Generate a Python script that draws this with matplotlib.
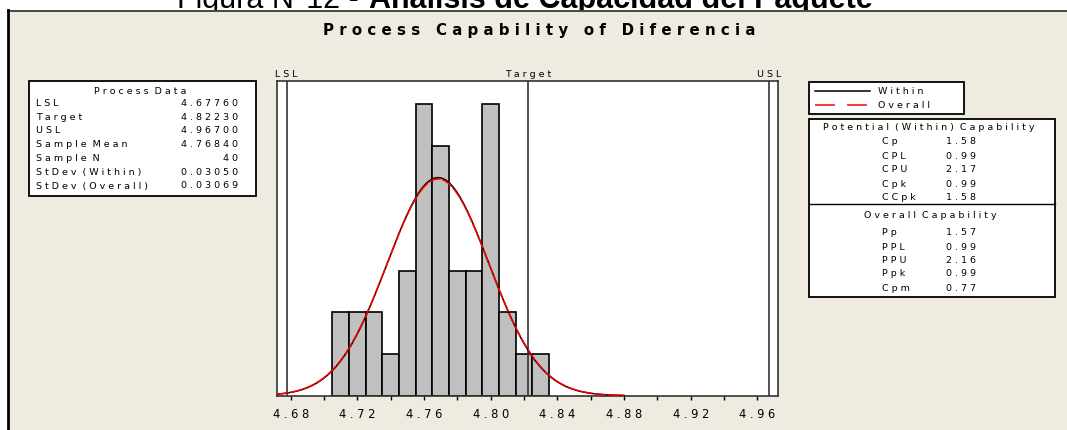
import numpy as np
import matplotlib
matplotlib.use('Agg')
from matplotlib import pyplot as plt
from matplotlib.patches import Rectangle

# histogram of "Diferencia" (bin centres, counts)
bin_centers = [4.71, 4.72, 4.73, 4.74, 4.75, 4.76, 4.77, 4.78, 4.79, 4.80, 4.81, 4.82, 4.83]
counts = [2, 2, 2, 1, 3, 7, 6, 3, 3, 7, 2, 1, 1]
bin_width = 0.01

# process data
lsl = 4.6776
target = 4.8223
usl = 4.967
mean = 4.7684
n_obs = 40
sd_within = 0.03050
sd_overall = 0.03069

process_labels = ['LSL', 'Target', 'USL', 'Sample Mean', 'Sample N', 'StDev (Within)', 'StDev (Overall)']
process_values = ['4.67760', '4.82230', '4.96700', '4.76840', '40', '0.03050', '0.03069']

within_labels = ['Cp', 'CPL', 'CPU', 'Cpk', 'CCpk']
within_values = ['1.58', '0.99', '2.17', '0.99', '1.58']
overall_labels = ['Pp', 'PPL', 'PPU', 'Ppk', 'Cpm']
overall_values = ['1.57', '0.99', '2.16', '0.99', '0.77']

tick_major = [4.68, 4.72, 4.76, 4.80, 4.84, 4.88, 4.92, 4.96]
tick_minor = [4.70, 4.74, 4.78, 4.82, 4.86, 4.90, 4.94]

W, H = 1067, 430
BEIGE = '#EFEBE1'


def sp(s, sep=' ', gap='   '):
    # minitab style letter spacing
    return gap.join(sep.join(w) for w in s.split(' '))


fig = plt.figure(figsize=(W / 100, H / 100), dpi=100)
fig.patch.set_facecolor('white')

# background axes in pixel coordinates
bg = fig.add_axes([0, 0, 1, 1], zorder=-1)
bg.set_xlim(0, W)
bg.set_ylim(H, 0)
bg.axis('off')

# document caption, cut by the panel like in the source
t1 = bg.text(177, 8, 'Figura N°12 - ', ha='left', va='baseline', fontsize=22,
             family='Liberation Sans', zorder=1)
fig.canvas.draw()
x_bold = t1.get_window_extent().x1 + 2
bg.text(x_bold, 8, 'Análisis de Capacidad del Paquete', ha='left', va='baseline',
        fontsize=22, family='Liberation Sans', weight='bold', zorder=1)

bg.add_patch(Rectangle((8, 10), W, H, fc=BEIGE, ec='none', zorder=2))
bg.plot([8, W], [10.5, 10.5], color='#3a3a3a', lw=1.3, zorder=2.5)
bg.plot([8, 8], [10, H], color='black', lw=2, zorder=2.5)

bg.text(539, 30, sp('Process Capability of Diferencia'), ha='center', va='center',
        fontsize=10.8, weight='bold', zorder=4)

fs = 6.8

# process data box
bg.add_patch(Rectangle((29.3, 81), 226.7, 115, fc='white', ec='black', lw=1.3, zorder=3))
bg.text(140, 91, sp('Process Data', gap='  '), ha='center', va='center', fontsize=fs, zorder=4)
rows_y = np.linspace(103.3, 186, len(process_labels))
for lab, val, y in zip(process_labels, process_values, rows_y):
    bg.text(36, y, sp(lab, gap='  '), ha='left', va='center', fontsize=fs, zorder=4)
    bg.text(238, y, sp(val), ha='right', va='center', fontsize=fs, zorder=4)

# legend box
bg.add_patch(Rectangle((809.3, 81.7), 154.7, 32.3, fc='white', ec='black', lw=1.3, zorder=3))
bg.plot([815, 870], [91, 91], color='black', lw=1.1, zorder=4)
bg.plot([815, 870], [105, 105], color='red', lw=1.1, dashes=(13, 8), zorder=4)
bg.text(878, 91, sp('Within'), ha='left', va='center', fontsize=fs, zorder=4)
bg.text(878, 105, sp('Overall'), ha='left', va='center', fontsize=fs, zorder=4)

# capability box
bg.add_patch(Rectangle((809.3, 119), 246, 177.7, fc='white', ec='black', lw=1.3, zorder=3))
bg.plot([809.3, 1055.3], [204, 204], color='black', lw=1, zorder=4)
bg.text(929, 127.7, sp('Potential (Within) Capability', gap='  '), ha='center', va='center',
        fontsize=fs, zorder=4)
for lab, val, y in zip(within_labels, within_values, [141.7, 156.7, 169.3, 184.3, 197.3]):
    bg.text(882, y, sp(lab), ha='left', va='center', fontsize=fs, zorder=4)
    bg.text(946, y, sp(val), ha='left', va='center', fontsize=fs, zorder=4)
bg.text(930, 215.7, sp('Overall Capability', gap='  '), ha='center', va='center',
        fontsize=fs, zorder=4)
for lab, val, y in zip(overall_labels, overall_values, [232.7, 247, 260.7, 274, 288.7]):
    bg.text(882, y, sp(lab), ha='left', va='center', fontsize=fs, zorder=4)
    bg.text(946, y, sp(val), ha='left', va='center', fontsize=fs, zorder=4)

# histogram
ax = fig.add_axes([276.7 / W, 34.3 / H, 501 / W, 314.7 / H])
ax.set_facecolor('white')
ax.bar(bin_centers, counts, width=bin_width, color='#C0C0C0', edgecolor='black', lw=1.2)

xs = np.linspace(4.6716, 4.88, 400)
scale = n_obs * bin_width
pdf_w = scale * np.exp(-0.5 * ((xs - mean) / sd_within) ** 2) / (sd_within * np.sqrt(2 * np.pi))
pdf_o = scale * np.exp(-0.5 * ((xs - mean) / sd_overall) ** 2) / (sd_overall * np.sqrt(2 * np.pi))
ax.plot(xs, pdf_w, color='black', lw=1.1, zorder=3)
ax.plot(xs, pdf_o, color='red', lw=1.1, dashes=(8, 1), zorder=4)

for x, lab in zip([lsl, target, usl], ['LSL', 'Target', 'USL']):
    ax.axvline(x, color='#333333', lw=1.2, zorder=2)
    ax.text(x, 1.02, sp(lab), transform=ax.get_xaxis_transform(), ha='center', va='center',
            fontsize=fs, clip_on=False)

ax.set_xlim(4.6716, 4.9722)
ax.set_ylim(0, 7.55)
ax.set_yticks([])
ax.set_xticks(tick_major)
ax.set_xticklabels([sp('%.2f' % t) for t in tick_major], fontsize=8.3)
ax.set_xticks(tick_minor, minor=True)
ax.tick_params(axis='x', which='both', direction='out', length=3, width=1, pad=6, colors='black')
for s in ax.spines.values():
    s.set_color('#333333')
    s.set_linewidth(1.2)

fig.savefig('out.png', dpi=100, facecolor='white')
